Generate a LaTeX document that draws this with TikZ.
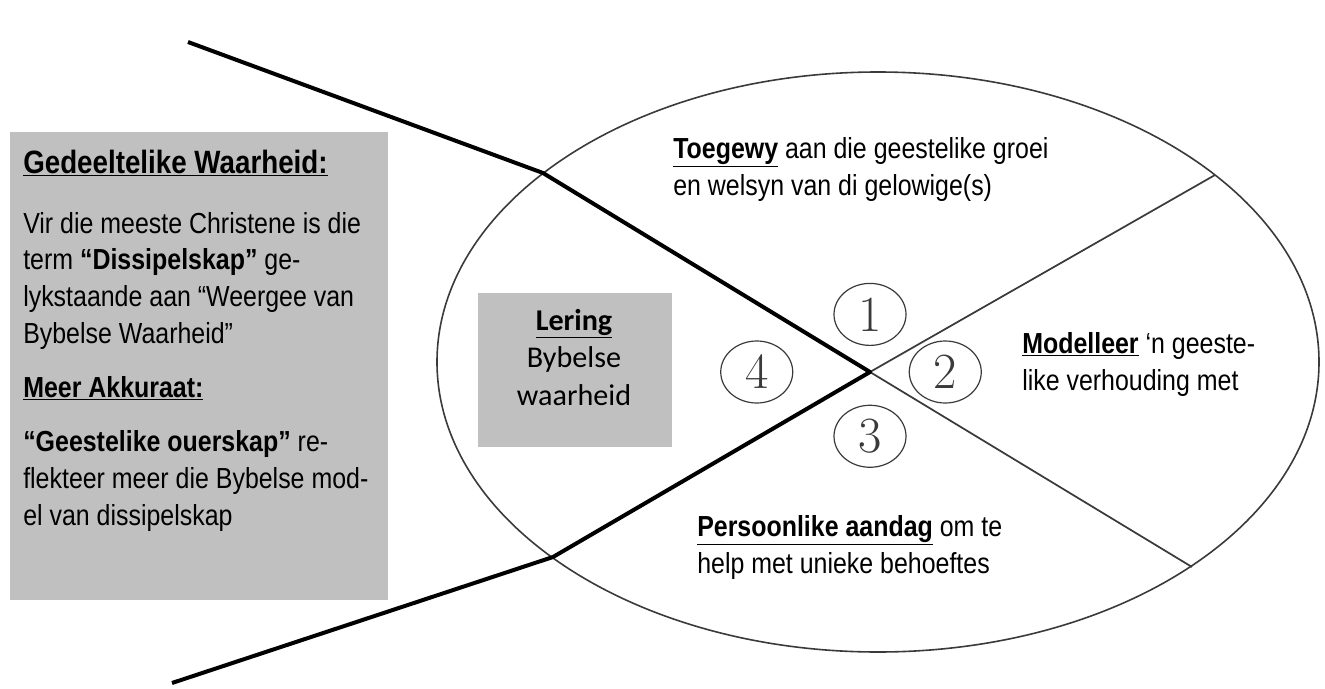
\documentclass[tikz,border=0pt]{standalone}
\usepackage{fontspec}
\setmainfont{Liberation Sans}[FakeStretch=0.86]
\newfontfamily\calfont{Carlito}
\newfontfamily\numfont{Latin Modern Roman}
\usepackage{xcolor}
\usetikzlibrary{shapes.geometric,positioning}
\definecolor{boxgrey}{HTML}{C0C0C0}
\definecolor{inkgrey}{HTML}{3A3A3A}

\begin{document}
\begin{tikzpicture}[
    x=0.75pt, y=-0.75pt,
    node distance=20pt,
    rim/.style={ellipse, draw=inkgrey, line width=1.2pt, minimum width=661.5pt, minimum height=435pt, inner sep=0pt},
    spoke/.style={line width=3pt, line join=round},
    split/.style={draw=inkgrey, line width=1.3pt},
    greybox/.style={fill=boxgrey, inner sep=0pt},
    note/.style={anchor=base west, inner sep=0pt, align=left, font=\fontsize{21.75}{27.4}\selectfont},
    num/.style={ellipse, draw=inkgrey, line width=0.9pt, minimum width=54pt, minimum height=46.5pt, inner sep=0pt, font=\numfont\fontsize{38}{38}\selectfont, text=inkgrey}
]
    \useasboundingbox (0,0) rectangle (1325,689);
    \node[rim] (wheel) at (878,362) {};

    % left panel (base = last line)
    \node[greybox, anchor=north west, minimum width=283.5pt, minimum height=351pt] (truth) at (10,132) {};
    \node[note, font=\fontsize{24.2}{28}\selectfont] (head1) at (23,173) {\textbf{\underline{Gedeeltelike Waarheid:}}};
    \node[note] (body1) at (23,343) {Vir die meeste Christene is die\\term \textbf{“Dissipelskap”} ge-\\lykstaande aan “Weergee van\\Bybelse Waarheid”};
    \node[note] (head2) at (23,397) {\textbf{\underline{Meer Akkuraat:}}};
    \node[note] (body2) at (23,525) {\textbf{“Geestelike ouerskap”} re-\\flekteer meer die Bybelse mod-\\el van dissipelskap};

    % teaching box
    \node[greybox, minimum width=145.5pt, minimum height=115.5pt] (lering) at (575,370) {};
    \node[anchor=base, align=center, inner sep=0pt, font=\calfont\fontsize{22.6}{28}\selectfont] (leringtext) at (574,405) {\textbf{\underline{Lering}}\\Bybelse\\waarheid};

    % spokes
    \coordinate (hub) at (870,372);
    \coordinate (topend) at (188,42);
    \coordinate (topbend) at (543,173);
    \coordinate (lowend) at (172,683);
    \coordinate (lowbend) at (553,557);
    \coordinate (upright) at (1215,175);
    \coordinate (downright) at (1192,567);
    \draw[split] (hub) -- (upright);
    \draw[split] (hub) -- (downright);
    \draw[spoke] (topend) -- (topbend) -- (hub) -- (lowbend) -- (lowend);

    % numbers
    \node[num, above=19.5pt of hub] (one) {1};
    \node[num, right=29pt of hub] (two) {2};
    \node[num, below=24.5pt of hub] (three) {3};
    \node[num, left=57.5pt of hub] (four) {4};

    % quadrant texts
    \node[note] (devoted) at (673,195) {\textbf{\underline{Toegewy}} aan die geestelike groei\\en welsyn van di gelowige(s)};
    \node[note] (model) at (1022,390) {\textbf{\underline{Modelleer}} ‘n geeste-\\like verhouding met};
    \node[note] (care) at (697,573) {\textbf{\underline{Persoonlike aandag}} om te\\help met unieke behoeftes};
\end{tikzpicture}
\end{document}
